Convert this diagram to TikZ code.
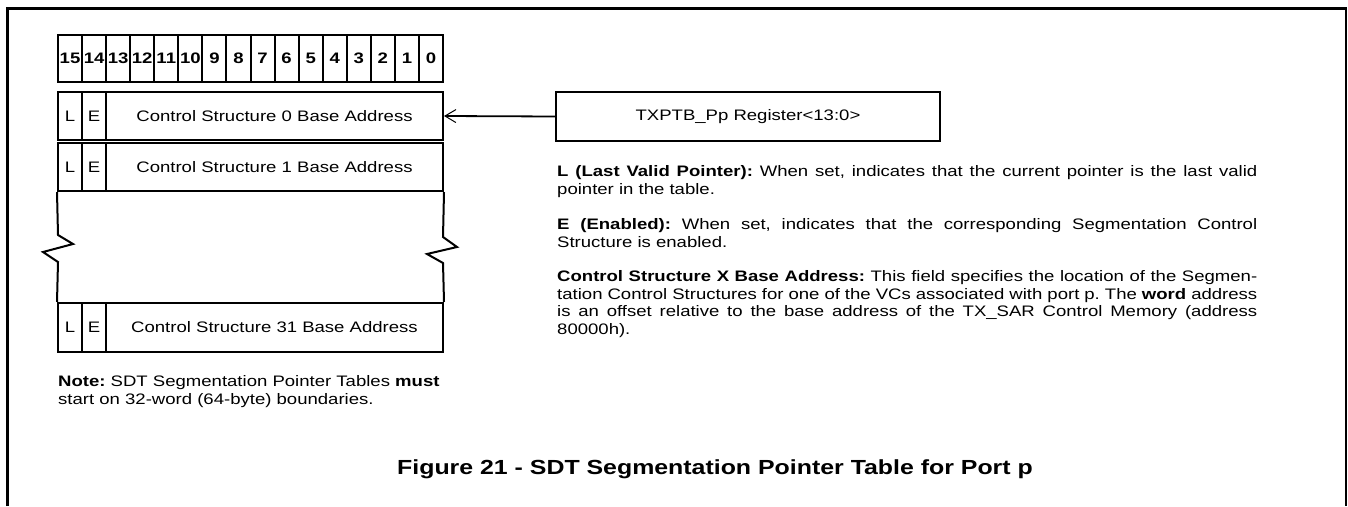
\documentclass[tikz,border=0pt]{standalone}
\usepackage{fontspec}
\setmainfont{Liberation Sans}
\usetikzlibrary{arrows.meta}
\frenchspacing
\newcommand{\hs}[1]{\scalebox{1.22}[1]{#1}}
\tikzset{
  frameline/.style={line width=3pt},
  bitcell/.style={draw, line width=2pt, inner sep=0pt, minimum width=24.06pt, minimum height=47pt},
  cellbox/.style={draw, line width=2pt, inner sep=0pt, minimum height=48pt},
  zig/.style={line width=2pt},
  ptr/.style={line width=1.8pt, -{Straight Barb[length=11pt,width=13pt,line width=1pt]}},
  txt/.style={inner sep=0pt, anchor=base west}
}
\begin{document}
\begin{tikzpicture}[x=1pt,y=-1pt,font=\fontsize{15.2}{17.6}\selectfont]
\useasboundingbox (0,0) rectangle (1348,506);
% frame
\draw[frameline] (7.5,506) -- (7.5,8) -- (1347,8);
\draw[line width=2pt] (1346,9) -- (1346,506);
% bit header
\foreach \i in {0,...,15}{
  \pgfmathtruncatemacro\n{15-\i}
  \node[bitcell] (b\n) at ({58+(\i+0.5)*24.0625},58.5) {\hs{\bfseries\n}};
}
% row 0
\node[cellbox, minimum width=24pt] (l0) at (70,116) {\hs{L}};
\node[cellbox, minimum width=24pt] (e0) at (94,116) {\hs{E}};
\node[cellbox, minimum width=337pt] (a0) at (274.5,116) {\hs{Control Structure 0 Base Address}};
% row 1
\node[cellbox, minimum width=24pt] (l1) at (70,167) {\hs{L}};
\node[cellbox, minimum width=24pt] (e1) at (94,167) {\hs{E}};
\node[cellbox, minimum width=337pt] (a1) at (274.5,167) {\hs{Control Structure 1 Base Address}};
% row 31
\node[cellbox, minimum width=24pt, minimum height=49pt] (l31) at (70,327.5) {\hs{L}};
\node[cellbox, minimum width=24pt, minimum height=49pt] (e31) at (94,327.5) {\hs{E}};
\node[cellbox, minimum width=337pt, minimum height=49pt] (a31) at (274.5,327.5) {\hs{Control Structure 31 Base Address}};
% broken region
\draw[zig] (l1.south west) -- (58,235) -- (73,244) -- (43,252) -- (58,262) -- (l31.north west);
\draw[zig] (a1.south east) -- (443,237) -- (457,247) -- (427,254) -- (443,263) -- (a31.north east);
% register
\node[cellbox, minimum width=384pt, minimum height=49pt] (tx) at (748,116.5) {\hs{TXPTB\_Pp Register<13:0>}};
\draw[ptr] (tx.west) -- (a0.east);
% descriptions
\node[txt] (pL) at (557,176.5) {\hs{\parbox[t]{573.8pt}{\tolerance=10000\lineskiplimit=-20pt\relax \textbf{L (Last Valid Pointer):} When set, indicates that the current pointer is the last valid\linebreak pointer in the table.}}};
\node[txt] (pE) at (557,229.5) {\hs{\parbox[t]{573.8pt}{\tolerance=10000\lineskiplimit=-20pt\relax \textbf{E (Enabled):} When set, indicates that the corresponding Segmentation Control\linebreak Structure is enabled.}}};
\node[txt] (pC) at (557,281.5) {\hs{\parbox[t]{573.8pt}{\tolerance=10000\lineskiplimit=-20pt\relax \textbf{Control Structure X Base Address:} This field specifies the location of the Segmen-\linebreak tation Control Structures for one of the VCs associated with port p. The \textbf{word} address\linebreak is an offset relative to the base address of the TX\_SAR Control Memory (address\linebreak 80000h).}}};
% note
\node[txt] (note) at (58,386.5) {\hs{\parbox[t]{340pt}{\raggedright\lineskiplimit=-20pt\relax \textbf{Note:} SDT Segmentation Pointer Tables \textbf{must}\\ start on 32-word (64-byte) boundaries.}}};
% caption
\node[inner sep=0pt, anchor=base] (cap) at (715,474) {\hs{\fontsize{20.4}{24}\selectfont\bfseries Figure 21 - SDT Segmentation Pointer Table for Port p}};
\end{tikzpicture}
\end{document}
